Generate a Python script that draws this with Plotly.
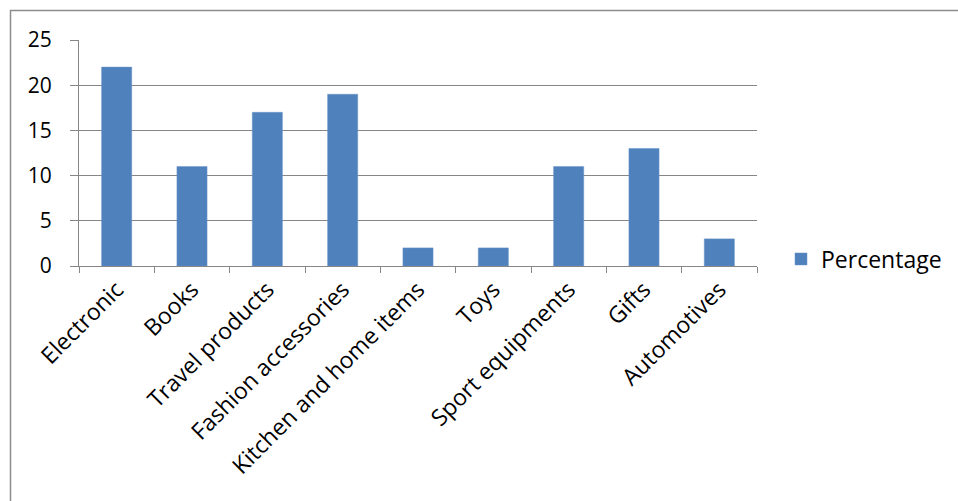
import plotly.graph_objects as go

categories = ["Electronic", "Books", "Travel products", "Fashion accessories",
              "Kitchen and home items", "Toys", "Sport equipments", "Gifts", "Automotives"]
percentage = [22, 11, 17, 19, 2, 2, 11, 13, 3]
y_ticks = [0, 5, 10, 15, 20, 25]

W, H = 958, 501
L, R, T, B = 79, 201, 40, 235
pw, ph = W - L - R, H - T - B

def px_x(x):
    return (x - L) / pw

def px_y(y):
    return (H - B - y) / ph

fig = go.Figure()
fig.add_trace(go.Bar(
    x=categories, y=percentage, name="Percentage",
    marker=dict(color="#4F81BD", line=dict(color="#6a95c8", width=0.5)),
    showlegend=True,
))

font = "Open Sans, Liberation Sans, sans-serif"
fig.update_layout(
    width=W, height=H,
    margin=dict(l=L, r=R, t=T, b=B, autoexpand=False),
    paper_bgcolor="white", plot_bgcolor="white",
    bargap=0.6,
    font=dict(family=font, size=20, color="black"),
    showlegend=True,
    legend=dict(x=px_x(781), y=px_y(259), xanchor="left", yanchor="middle",
                font=dict(size=23, family=font), itemwidth=30,
                bgcolor="rgba(0,0,0,0)"),
    xaxis=dict(
        type="category", tickangle=-45, tickson="boundaries",
        showline=True, linecolor="#868686", linewidth=1,
        ticks="outside", ticklen=6, tickcolor="#868686",
        showgrid=False, tickfont=dict(size=23, family=font),
    ),
    yaxis=dict(
        range=[0, 25], tickvals=y_ticks,
        showline=True, linecolor="#868686", linewidth=1,
        ticks="outside", ticklen=8, tickcolor="#868686",
        showgrid=True, gridcolor="#868686", gridwidth=1,
        zeroline=False, ticklabelstandoff=14,
        tickfont=dict(size=21, family=font),
    ),
    shapes=[dict(type="rect", xref="paper", yref="paper",
                 x0=px_x(10.5), x1=px_x(1000), y0=px_y(600), y1=px_y(10.5),
                 line=dict(color="#8c8c8c", width=1.5), layer="below")],
)

fig.write_html("out.html")
